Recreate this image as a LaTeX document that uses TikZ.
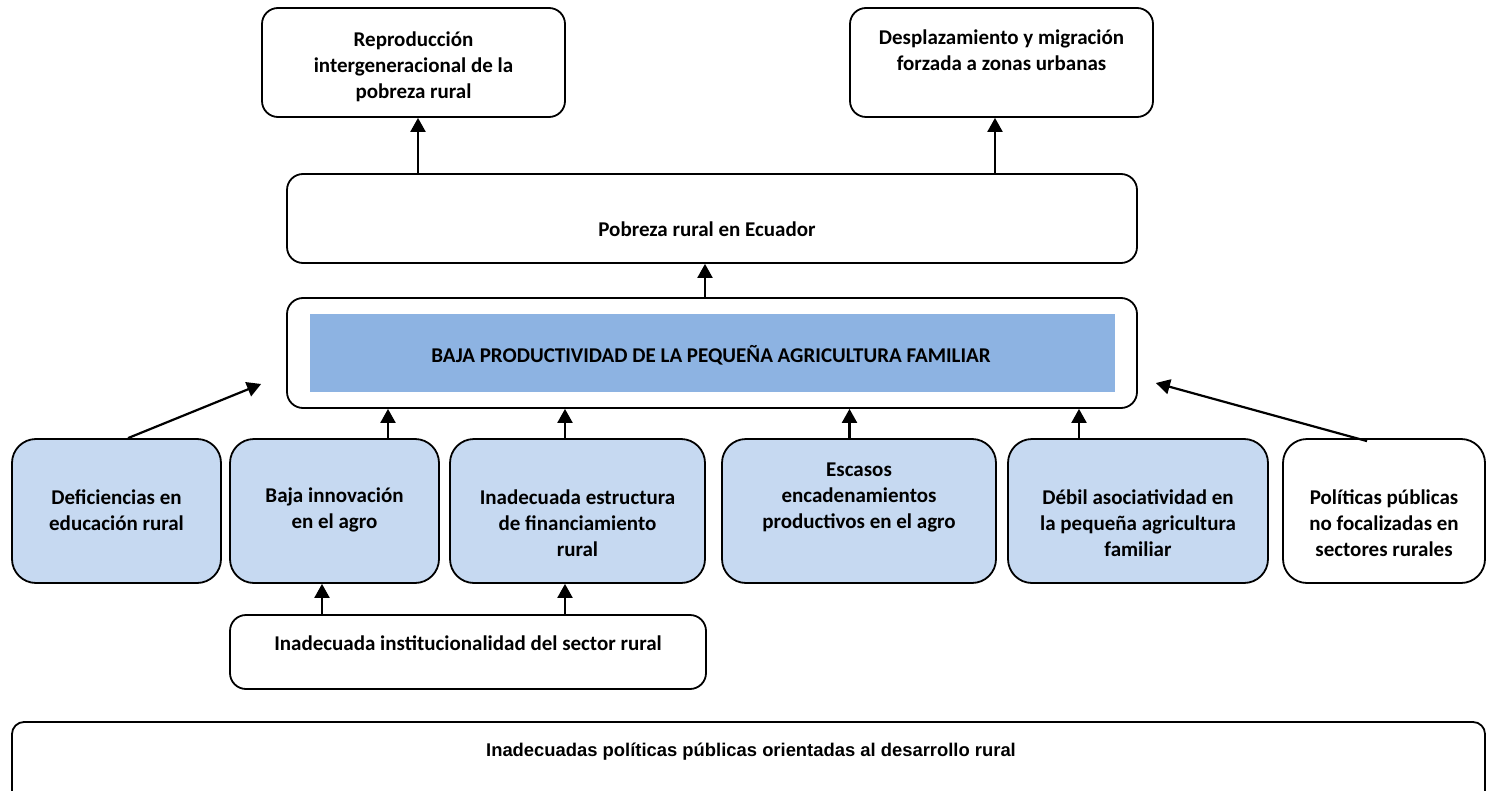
\documentclass[tikz,border=0pt]{standalone}
\usepackage{fontspec}
\setmainfont{Carlito}
\newfontfamily\arialfont{Liberation Sans}
\usetikzlibrary{arrows.meta}
\definecolor{causefill}{HTML}{C6D9F1}
\definecolor{corefill}{HTML}{8DB3E2}

\begin{document}
\begin{tikzpicture}[x=0.5pt, y=-0.5pt,
    box/.style={draw, rounded corners=8pt, line width=0.9pt, inner sep=0pt},
    causebox/.style={box, fill=causefill, rounded corners=12pt, minimum height=72pt},
    txt/.style={align=center, font=\bfseries\fontsize{10.5}{13}\selectfont},
    arr/.style={-{Triangle[length=7pt,width=7.5pt]}, line width=1.1pt}]
   \useasboundingbox (0,0) rectangle (1487,791);

   % effects
   \node [box, minimum width=151.5pt, minimum height=54.5pt] (repro) at (413.5,62.5) {};
   \node [box, minimum width=151.5pt, minimum height=54.5pt] (despl) at (1001.5,62.5) {};
   \node [box, minimum width=425pt, minimum height=44.5pt] (pobreza) at (712,218.5) {};

   % central problem
   \node [box, minimum width=425pt, minimum height=55pt] (baja) at (712,353) {};
   \node [fill=corefill, inner sep=0pt, minimum width=402.5pt, minimum height=39pt] (core) at (712.5,353) {};

   % causes
   \node [causebox, minimum width=104.5pt] (educ) at (116.5,511) {};
   \node [causebox, minimum width=104.5pt] (innov) at (334.5,511) {};
   \node [causebox, minimum width=127.5pt] (finan) at (577.5,511) {};
   \node [causebox, minimum width=137pt] (encad) at (859,511) {};
   \node [causebox, minimum width=130pt] (asoc) at (1138,511) {};
   \node [causebox, fill=white, minimum width=101pt] (polit) at (1384,511) {};
   \node [box, minimum width=238pt, minimum height=37pt] (instit) at (468,652) {};
   \node [box, rounded corners=6pt, minimum width=736.5pt, minimum height=69pt] (rural) at (748.5,791) {};

   % texts
   \node [txt] (repro-t) at (413.5,67) {Reproducción\\intergeneracional de la\\pobreza rural};
   \node [txt] (despl-t) at (1001.5,50) {Desplazamiento y migración\\forzada a zonas urbanas};
   \node [txt] (pobreza-t) at (707,229) {Pobreza rural en Ecuador};
   \node [txt] (baja-t) at (711,355) {BAJA PRODUCTIVIDAD DE LA PEQUEÑA AGRICULTURA FAMILIAR};
   \node [txt] (educ-t) at (116.5,510) {Deficiencias en\\educación rural};
   \node [txt] (innov-t) at (334.5,510) {Baja innovación\\en el agro};
   \node [txt] (finan-t) at (577.5,523) {Inadecuada estructura\\de financiamiento\\rural};
   \node [txt] (encad-t) at (859,497) {Escasos\\encadenamientos\\productivos en el agro};
   \node [txt] (asoc-t) at (1138,523) {Débil asociatividad en\\la pequeña agricultura\\familiar};
   \node [txt] (polit-t) at (1384,523) {Políticas públicas\\no focalizadas en\\sectores rurales};
   \node [txt] (instit-t) at (468,643) {Inadecuada institucionalidad del sector rural};
   \node [txt, font=\arialfont\bfseries\fontsize{9.2}{11}\selectfont] (rural-t) at (751,752) {Inadecuadas políticas públicas orientadas al desarrollo rural};

   % arrows
   \draw [arr] ([xshift=2.25pt]repro.south |- pobreza.north) -- ([xshift=2.25pt]repro.south);
   \draw [arr] ([xshift=-3.25pt]despl.south |- pobreza.north) -- ([xshift=-3.25pt]despl.south);
   \draw [arr] ([xshift=-3.5pt]baja.north) -- ([xshift=-3.5pt]pobreza.south);
   \draw [arr] ([xshift=5.75pt]educ.north) -- ([xshift=-12.5pt, yshift=-15.5pt]baja.west);
   \draw [arr] ([xshift=26.75pt]innov.north) -- ([xshift=26.75pt]innov.north |- baja.south);
   \draw [arr] ([xshift=-6.25pt]finan.north) -- ([xshift=-6.25pt]finan.north |- baja.south);
   \draw [arr] ([xshift=-4.75pt]encad.north) -- ([xshift=-4.75pt]encad.north |- baja.south);
   \draw [arr] ([xshift=-29.5pt]asoc.north) -- ([xshift=-29.5pt]asoc.north |- baja.south);
   \draw [arr] ([xshift=-8.5pt, yshift=-1.5pt]polit.north) -- ([xshift=9pt, yshift=-15pt]baja.east);
   \draw [arr] ([xshift=-6.25pt]innov.south |- instit.north) -- ([xshift=-6.25pt]innov.south);
   \draw [arr] ([xshift=-6.25pt]finan.south |- instit.north) -- ([xshift=-6.25pt]finan.south);
\end{tikzpicture}
\end{document}
